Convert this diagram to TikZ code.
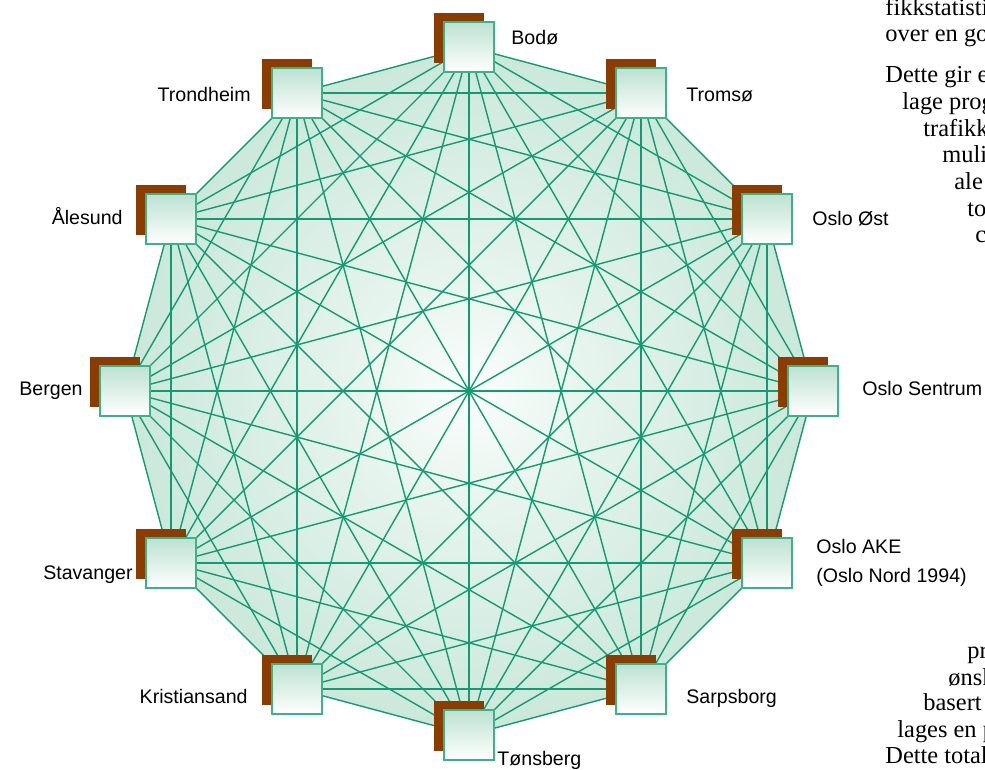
\documentclass[tikz,border=0pt]{standalone}
\usepackage{fontspec}
\setmainfont{Liberation Serif}
\newfontfamily\cityfont{Liberation Sans}
\usetikzlibrary{shadows,backgrounds}

\definecolor{meshline}{RGB}{18,155,114}
\definecolor{meshfill}{RGB}{186,225,207}
\definecolor{boxline}{RGB}{60,178,138}
\definecolor{boxtop}{RGB}{188,225,209}
\definecolor{boxshadow}{RGB}{139,60,0}
\colorlet{meshcore}{meshfill!6}
\colorlet{meshinner}{meshfill!40}
\colorlet{meshmid}{meshfill!75}

\pgfdeclareradialshading{hubglow}{\pgfpoint{0bp}{0bp}}{color(0bp)=(meshcore); color(10bp)=(meshinner); color(24bp)=(meshmid); color(36bp)=(meshfill); color(50bp)=(meshfill)}

\tikzset{
  station/.style={draw=boxline, line width=0.7pt, minimum size=25pt, inner sep=0pt,
    top color=boxtop, bottom color=white,
    drop shadow={shadow xshift=-5pt, shadow yshift=4.5pt, fill=boxshadow, opacity=1}},
  link/.style={meshline, line width=0.7pt},
  city/.style={font=\cityfont\fontsize{9.8}{14.5}\selectfont, inner sep=0pt},
  pagetext/.style={font=\fontsize{12.2}{13.35}\selectfont, inner sep=0pt, anchor=base west}
}

\begin{document}
\begin{tikzpicture}[x=0.5pt, y=-0.5pt]
    \useasboundingbox (0,0) rectangle (985,770);

    % stations round the ring, Bodø on top
    \foreach \name [count=\i] in {bodo,tromso,osloost,oslosentrum,osloake,sarpsborg,tonsberg,kristiansand,stavanger,bergen,alesund,trondheim}
        \node[station, alias=s\i] (\name) at ({469+344*cos(90-30*(\i-1))},{391-344*sin(90-30*(\i-1))}) {};

    \begin{pgfonlayer}{background}
    \path[shading=hubglow] (s1.center) \foreach \i in {2,...,12}{ -- (s\i.center)} -- cycle;
    % every station to every other
    \foreach \i in {1,...,11}{
        \pgfmathtruncatemacro\k{\i+1}
        \foreach \j in {\k,...,12}
            \draw[link] (s\i.center) -- (s\j.center);
    }
    \end{pgfonlayer}

    \node[city, anchor=base west] (bodolbl) at (511,45) {Bodø};
    \node[city, anchor=base west] (tromsolbl) at (686,102) {Tromsø};
    \node[city, anchor=base west] (osloostlbl) at (812,226) {Oslo Øst};
    \node[city, anchor=base west] (oslosentrumlbl) at (862,395) {Oslo Sentrum};
    \node[city, anchor=base west] (osloakelbl) at (816,553) {Oslo AKE};
    \node[city, anchor=base west] (oslonordlbl) at (816,582) {(Oslo Nord 1994)};
    \node[city, anchor=base west] (sarpsborglbl) at (686,703) {Sarpsborg};
    \node[city, anchor=base west] (tonsberglbl) at (497,765) {Tønsberg};
    \node[city, anchor=base east] (kristiansandlbl) at (248,703) {Kristiansand};
    \node[city, anchor=base east] (stavangerlbl) at (133,579) {Stavanger};
    \node[city, anchor=base east] (bergenlbl) at (83,395) {Bergen};
    \node[city, anchor=base east] (alesundlbl) at (123,225) {Ålesund};
    \node[city, anchor=base east] (trondheimlbl) at (251,102) {Trondheim};

    % body text of the page, cut at the edge
    \begin{scope}
    \clip (0,0) rectangle (985,770);
    \node[pagetext] (t1) at (885,16) {fikkstatisti};
    \node[pagetext] (t2) at (885,42) {over en go};
    \node[pagetext] (t3) at (885,83) {Dette gir e};
    \node[pagetext] (t4) at (902,110) {lage prog};
    \node[pagetext] (t5) at (923,137) {trafikk};
    \node[pagetext] (t6) at (942,163) {muli};
    \node[pagetext] (t7) at (954,190) {ale};
    \node[pagetext] (t8) at (967,217) {to};
    \node[pagetext] (t9) at (975,243) {c};
    \node[pagetext] (b1) at (967,658) {pr};
    \node[pagetext] (b2) at (948,685) {ønsk};
    \node[pagetext] (b3) at (923,710) {basert};
    \node[pagetext] (b4) at (897,737) {lages en p};
    \node[pagetext] (b5) at (885,763) {Dette total};
    \end{scope}
\end{tikzpicture}
\end{document}
